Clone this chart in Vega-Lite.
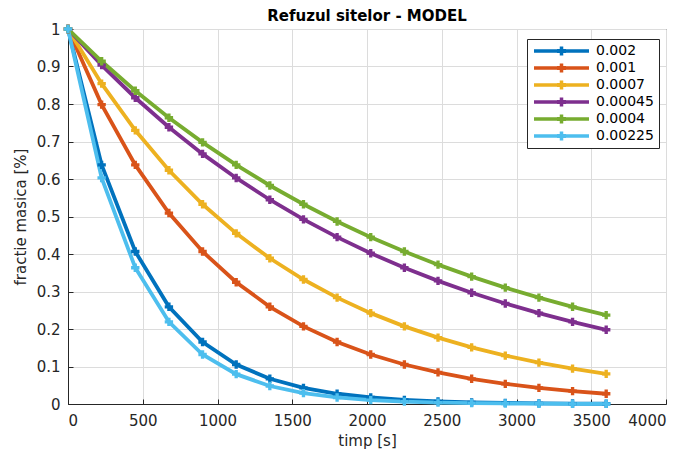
{
  "$schema": "https://vega.github.io/schema/vega-lite/v6.json",
  "width": 598,
  "height": 375,
  "autosize": {"type": "none"},
  "padding": {"left": 68, "top": 29, "right": 23, "bottom": 46},
  "background": "white",
  "title": {"text": "Refuzul sitelor - MODEL", "font": "DejaVu Sans", "fontSize": 15, "fontWeight": "bold", "color": "#000000", "offset": -3},
  "config": {
    "view": {"stroke": "#262626", "strokeWidth": 1},
    "axis": {"labelFont": "DejaVu Sans", "titleFont": "DejaVu Sans", "labelFontSize": 15, "titleFontSize": 15, "labelColor": "#262626", "titleColor": "#262626", "titleFontWeight": "normal", "domainColor": "#262626", "tickColor": "#262626", "gridColor": "#dcdcdc", "gridOpacity": 1, "tickSize": -5}
  },
  "data": {"values": [
    {"t":0,"k":"0.002","y":1},{"t":225,"k":"0.002","y":0.6376},{"t":450,"k":"0.002","y":0.4066},{"t":675,"k":"0.002","y":0.2592},{"t":900,"k":"0.002","y":0.1653},{"t":1125,"k":"0.002","y":0.1054},{"t":1350,"k":"0.002","y":0.0672},{"t":1575,"k":"0.002","y":0.0429},{"t":1800,"k":"0.002","y":0.0273},{"t":2025,"k":"0.002","y":0.0174},{"t":2250,"k":"0.002","y":0.0111},{"t":2475,"k":"0.002","y":0.0071},{"t":2700,"k":"0.002","y":0.0045},{"t":2925,"k":"0.002","y":0.0029},{"t":3150,"k":"0.002","y":0.0018},{"t":3375,"k":"0.002","y":0.0012},{"t":3600,"k":"0.002","y":0.0007},
    {"t":0,"k":"0.001","y":1},{"t":225,"k":"0.001","y":0.7985},{"t":450,"k":"0.001","y":0.6376},{"t":675,"k":"0.001","y":0.5092},{"t":900,"k":"0.001","y":0.4066},{"t":1125,"k":"0.001","y":0.3247},{"t":1350,"k":"0.001","y":0.2592},{"t":1575,"k":"0.001","y":0.207},{"t":1800,"k":"0.001","y":0.1653},{"t":2025,"k":"0.001","y":0.132},{"t":2250,"k":"0.001","y":0.1054},{"t":2475,"k":"0.001","y":0.0842},{"t":2700,"k":"0.001","y":0.0672},{"t":2925,"k":"0.001","y":0.0537},{"t":3150,"k":"0.001","y":0.0429},{"t":3375,"k":"0.001","y":0.0342},{"t":3600,"k":"0.001","y":0.0273},
    {"t":0,"k":"0.0007","y":1},{"t":225,"k":"0.0007","y":0.8543},{"t":450,"k":"0.0007","y":0.7298},{"t":675,"k":"0.0007","y":0.6234},{"t":900,"k":"0.0007","y":0.5326},{"t":1125,"k":"0.0007","y":0.455},{"t":1350,"k":"0.0007","y":0.3887},{"t":1575,"k":"0.0007","y":0.332},{"t":1800,"k":"0.0007","y":0.2837},{"t":2025,"k":"0.0007","y":0.2423},{"t":2250,"k":"0.0007","y":0.207},{"t":2475,"k":"0.0007","y":0.1769},{"t":2700,"k":"0.0007","y":0.1511},{"t":2925,"k":"0.0007","y":0.1291},{"t":3150,"k":"0.0007","y":0.1103},{"t":3375,"k":"0.0007","y":0.0942},{"t":3600,"k":"0.0007","y":0.0805},
    {"t":0,"k":"0.00045","y":1},{"t":225,"k":"0.00045","y":0.9037},{"t":450,"k":"0.00045","y":0.8167},{"t":675,"k":"0.00045","y":0.7381},{"t":900,"k":"0.00045","y":0.667},{"t":1125,"k":"0.00045","y":0.6028},{"t":1350,"k":"0.00045","y":0.5447},{"t":1575,"k":"0.00045","y":0.4923},{"t":1800,"k":"0.00045","y":0.4449},{"t":2025,"k":"0.00045","y":0.402},{"t":2250,"k":"0.00045","y":0.3633},{"t":2475,"k":"0.00045","y":0.3283},{"t":2700,"k":"0.00045","y":0.2967},{"t":2925,"k":"0.00045","y":0.2681},{"t":3150,"k":"0.00045","y":0.2423},{"t":3375,"k":"0.00045","y":0.219},{"t":3600,"k":"0.00045","y":0.1979},
    {"t":0,"k":"0.0004","y":1},{"t":225,"k":"0.0004","y":0.9139},{"t":450,"k":"0.0004","y":0.8353},{"t":675,"k":"0.0004","y":0.7634},{"t":900,"k":"0.0004","y":0.6977},{"t":1125,"k":"0.0004","y":0.6376},{"t":1350,"k":"0.0004","y":0.5827},{"t":1575,"k":"0.0004","y":0.5326},{"t":1800,"k":"0.0004","y":0.4868},{"t":2025,"k":"0.0004","y":0.4449},{"t":2250,"k":"0.0004","y":0.4066},{"t":2475,"k":"0.0004","y":0.3716},{"t":2700,"k":"0.0004","y":0.3396},{"t":2925,"k":"0.0004","y":0.3104},{"t":3150,"k":"0.0004","y":0.2837},{"t":3375,"k":"0.0004","y":0.2592},{"t":3600,"k":"0.0004","y":0.2369},
    {"t":0,"k":"0.00225","y":1},{"t":225,"k":"0.00225","y":0.6028},{"t":450,"k":"0.00225","y":0.3633},{"t":675,"k":"0.00225","y":0.219},{"t":900,"k":"0.00225","y":0.132},{"t":1125,"k":"0.00225","y":0.0796},{"t":1350,"k":"0.00225","y":0.048},{"t":1575,"k":"0.00225","y":0.0289},{"t":1800,"k":"0.00225","y":0.0174},{"t":2025,"k":"0.00225","y":0.0105},{"t":2250,"k":"0.00225","y":0.0063},{"t":2475,"k":"0.00225","y":0.0038},{"t":2700,"k":"0.00225","y":0.0023},{"t":2925,"k":"0.00225","y":0.0014},{"t":3150,"k":"0.00225","y":0.0008},{"t":3375,"k":"0.00225","y":0.0005},{"t":3600,"k":"0.00225","y":0.0003}
  ]},
  "encoding": {
    "x": {"field": "t", "type": "quantitative", "scale": {"domain": [0, 4000], "nice": false}, "axis": {"title": "timp [s]", "format": "d", "values": [0,500,1000,1500,2000,2500,3000,3500,4000], "labelPadding": 14, "titlePadding": 5}},
    "y": {"field": "y", "type": "quantitative", "scale": {"domain": [0, 1], "nice": false}, "axis": {"title": "fractie masica [%]", "format": "~g", "values": [0,0.1,0.2,0.3,0.4,0.5,0.6,0.7,0.8,0.9,1], "labelPadding": 13, "titlePadding": 8}},
    "color": {"field": "k", "type": "nominal", "sort": ["0.002","0.001","0.0007","0.00045","0.0004","0.00225"],
      "scale": {"domain": ["0.002","0.001","0.0007","0.00045","0.0004","0.00225"], "range": ["#0072BD","#D95319","#EDB120","#7E2F8E","#77AC30","#4DBEEE"]},
      "legend": {"title": null, "orient": "none", "legendX": 459, "legendY": 10, "fillColor": "white", "strokeColor": "#262626", "padding": 5, "labelFont": "DejaVu Sans", "labelFontSize": 14, "labelColor": "#000000", "labelOffset": 50, "rowPadding": 3,
        "symbolType": "M-1,-0.35L10,-0.35L10,0.35L-1,0.35Z M4.15,-0.9L4.85,-0.9L4.85,0.9L4.15,0.9Z M3.6,-0.4L5.4,-0.4L5.4,0.4L3.6,0.4Z",
        "symbolSize": 100, "symbolStrokeWidth": 0,
        "encode": {"symbols": {"update": {"fill": {"scale": "color", "field": "value"}, "strokeWidth": {"value": 0}, "opacity": {"value": 1}}}}}
    },
    "order": {"field": "t", "type": "quantitative"}
  },
  "layer": [
    {"mark": {"type": "line", "strokeWidth": 3.8}},
    {"mark": {"type": "point", "shape": "cross", "filled": true, "size": 70, "opacity": 1}}
  ]
}
